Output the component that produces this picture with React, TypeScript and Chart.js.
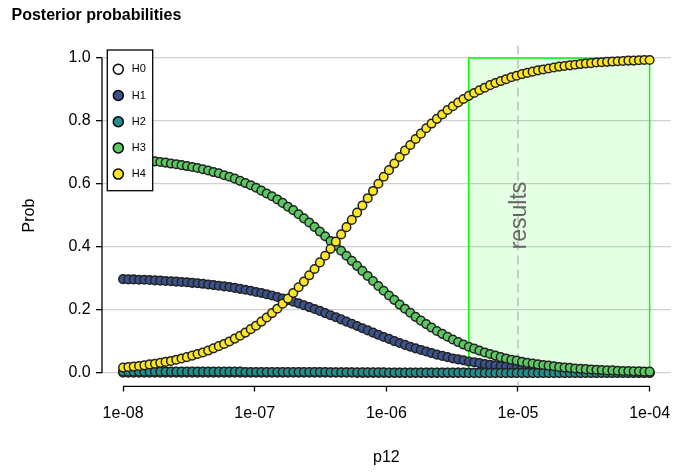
import React, { useEffect, useRef } from "react";
import { Chart, registerables } from "chart.js";

Chart.register(...registerables);

const FONT = '"Liberation Sans", Arial, Helvetica, sans-serif';

// p12 prior values (x)
const p12 = [
  1.0e-8, 1.0975e-8, 1.2045e-8, 1.3219e-8, 1.4508e-8, 1.5923e-8, 1.7475e-8, 1.9179e-8, 2.1049e-8, 2.3101e-8,
  2.5354e-8, 2.7826e-8, 3.0539e-8, 3.3517e-8, 3.6784e-8, 4.0371e-8, 4.4307e-8, 4.8627e-8, 5.3368e-8, 5.8571e-8,
  6.4282e-8, 7.055e-8, 7.7428e-8, 8.4978e-8, 9.3263e-8, 1.0236e-7, 1.1234e-7, 1.2329e-7, 1.3531e-7, 1.485e-7,
  1.6298e-7, 1.7887e-7, 1.9631e-7, 2.1544e-7, 2.3645e-7, 2.595e-7, 2.848e-7, 3.1257e-7, 3.4305e-7, 3.7649e-7,
  4.132e-7, 4.5349e-7, 4.9771e-7, 5.4623e-7, 5.9949e-7, 6.5794e-7, 7.2209e-7, 7.9249e-7, 8.6976e-7, 9.5456e-7,
  1.0476e-6, 1.1498e-6, 1.2619e-6, 1.3849e-6, 1.52e-6, 1.6681e-6, 1.8308e-6, 2.0093e-6, 2.2052e-6, 2.4202e-6,
  2.6562e-6, 2.9151e-6, 3.1993e-6, 3.5113e-6, 3.8537e-6, 4.2294e-6, 4.6416e-6, 5.0941e-6, 5.5908e-6, 6.1359e-6,
  6.7342e-6, 7.3908e-6, 8.1114e-6, 8.9022e-6, 9.7702e-6, 1.0723e-5, 1.1768e-5, 1.2916e-5, 1.4175e-5, 1.5557e-5,
  1.7074e-5, 1.8739e-5, 2.0566e-5, 2.2571e-5, 2.4771e-5, 2.7186e-5, 2.9837e-5, 3.2746e-5, 3.5939e-5, 3.9443e-5,
  4.3289e-5, 4.7509e-5, 5.2141e-5, 5.7225e-5, 6.2805e-5, 6.8928e-5, 7.5649e-5, 8.3024e-5, 9.112e-5, 1.0e-4,
];

const H0 = [
  0.001, 0.001, 0.001, 0.001, 0.001, 0.001, 0.001, 0.001, 0.001, 0.001,
  0.001, 0.001, 0.001, 0.001, 0.001, 0.001, 0.001, 0.001, 0.001, 0.001,
  0.001, 0.001, 0.001, 0.001, 0.001, 0.001, 0.001, 0.001, 0.001, 0.001,
  0.001, 0.001, 0.001, 0.001, 0.001, 0.001, 0.001, 0.001, 0.001, 0.001,
  0.001, 0.001, 0.001, 0.001, 0.0, 0.0, 0.0, 0.0, 0.0, 0.0,
  0.0, 0.0, 0.0, 0.0, 0.0, 0.0, 0.0, 0.0, 0.0, 0.0,
  0.0, 0.0, 0.0, 0.0, 0.0, 0.0, 0.0, 0.0, 0.0, 0.0,
  0.0, 0.0, 0.0, 0.0, 0.0, 0.0, 0.0, 0.0, 0.0, 0.0,
  0.0, 0.0, 0.0, 0.0, 0.0, 0.0, 0.0, 0.0, 0.0, 0.0,
  0.0, 0.0, 0.0, 0.0, 0.0, 0.0, 0.0, 0.0, 0.0, 0.0,
];

const H1 = [
  0.298, 0.297, 0.297, 0.296, 0.296, 0.295, 0.294, 0.293, 0.292, 0.291,
  0.29, 0.289, 0.288, 0.286, 0.285, 0.283, 0.281, 0.279, 0.277, 0.275,
  0.273, 0.27, 0.267, 0.264, 0.261, 0.257, 0.254, 0.25, 0.246, 0.241,
  0.236, 0.231, 0.226, 0.221, 0.215, 0.209, 0.203, 0.197, 0.19, 0.183,
  0.177, 0.17, 0.163, 0.156, 0.149, 0.142, 0.135, 0.128, 0.121, 0.114,
  0.108, 0.101, 0.095, 0.089, 0.083, 0.078, 0.073, 0.068, 0.063, 0.058,
  0.054, 0.05, 0.046, 0.043, 0.04, 0.036, 0.034, 0.031, 0.028, 0.026,
  0.024, 0.022, 0.02, 0.018, 0.017, 0.015, 0.014, 0.013, 0.012, 0.011,
  0.01, 0.009, 0.008, 0.008, 0.007, 0.006, 0.006, 0.005, 0.005, 0.004,
  0.004, 0.004, 0.003, 0.003, 0.003, 0.003, 0.002, 0.002, 0.002, 0.002,
];

const H2 = [
  0.004, 0.004, 0.004, 0.004, 0.004, 0.004, 0.004, 0.004, 0.004, 0.004,
  0.004, 0.004, 0.004, 0.004, 0.004, 0.004, 0.004, 0.004, 0.004, 0.004,
  0.004, 0.004, 0.004, 0.003, 0.003, 0.003, 0.003, 0.003, 0.003, 0.003,
  0.003, 0.003, 0.003, 0.003, 0.003, 0.003, 0.003, 0.003, 0.003, 0.002,
  0.002, 0.002, 0.002, 0.002, 0.002, 0.002, 0.002, 0.002, 0.002, 0.002,
  0.001, 0.001, 0.001, 0.001, 0.001, 0.001, 0.001, 0.001, 0.001, 0.001,
  0.001, 0.001, 0.001, 0.001, 0.001, 0.0, 0.0, 0.0, 0.0, 0.0,
  0.0, 0.0, 0.0, 0.0, 0.0, 0.0, 0.0, 0.0, 0.0, 0.0,
  0.0, 0.0, 0.0, 0.0, 0.0, 0.0, 0.0, 0.0, 0.0, 0.0,
  0.0, 0.0, 0.0, 0.0, 0.0, 0.0, 0.0, 0.0, 0.0, 0.0,
];

const H3 = [
  0.68, 0.679, 0.678, 0.677, 0.675, 0.673, 0.672, 0.67, 0.668, 0.665,
  0.663, 0.66, 0.657, 0.654, 0.651, 0.647, 0.643, 0.638, 0.634, 0.628,
  0.623, 0.617, 0.61, 0.603, 0.596, 0.588, 0.579, 0.57, 0.561, 0.551,
  0.54, 0.528, 0.517, 0.504, 0.491, 0.478, 0.464, 0.449, 0.434, 0.419,
  0.404, 0.388, 0.372, 0.356, 0.34, 0.324, 0.308, 0.292, 0.276, 0.261,
  0.246, 0.232, 0.217, 0.204, 0.191, 0.178, 0.166, 0.155, 0.144, 0.133,
  0.124, 0.115, 0.106, 0.098, 0.09, 0.083, 0.077, 0.071, 0.065, 0.06,
  0.055, 0.05, 0.046, 0.042, 0.039, 0.035, 0.032, 0.03, 0.027, 0.025,
  0.023, 0.021, 0.019, 0.017, 0.016, 0.014, 0.013, 0.012, 0.011, 0.01,
  0.009, 0.008, 0.008, 0.007, 0.006, 0.006, 0.005, 0.005, 0.004, 0.004,
];

const H4 = [
  0.017, 0.019, 0.02, 0.022, 0.024, 0.027, 0.029, 0.032, 0.035, 0.038,
  0.042, 0.046, 0.05, 0.055, 0.06, 0.065, 0.071, 0.078, 0.085, 0.092,
  0.1, 0.109, 0.118, 0.128, 0.139, 0.15, 0.163, 0.176, 0.19, 0.204,
  0.22, 0.236, 0.254, 0.272, 0.29, 0.31, 0.33, 0.351, 0.372, 0.394,
  0.417, 0.44, 0.463, 0.486, 0.509, 0.532, 0.555, 0.578, 0.601, 0.623,
  0.644, 0.665, 0.686, 0.706, 0.724, 0.743, 0.76, 0.777, 0.792, 0.807,
  0.821, 0.835, 0.847, 0.859, 0.87, 0.88, 0.889, 0.898, 0.906, 0.914,
  0.921, 0.927, 0.933, 0.939, 0.944, 0.949, 0.953, 0.957, 0.961, 0.964,
  0.967, 0.97, 0.973, 0.975, 0.977, 0.979, 0.981, 0.983, 0.984, 0.986,
  0.987, 0.988, 0.989, 0.99, 0.991, 0.992, 0.992, 0.993, 0.994, 0.994,
];

const seriesNames = ["H0", "H1", "H2", "H3", "H4"];
const seriesValues = [H0, H1, H2, H3, H4];
const seriesColors = ["#ffffff", "#3b528b", "#21908c", "#5dc863", "#fde725"];

const xTicks = [1e-8, 1e-7, 1e-6, 1e-5, 1e-4];
const xTickLabels = ["1e-08", "1e-07", "1e-06", "1e-05", "1e-04"];
const yTicks = [0, 0.2, 0.4, 0.6, 0.8, 1.0];
const yTickLabels = ["0.0", "0.2", "0.4", "0.6", "0.8", "1.0"];

const xMin = 6.918e-9;
const xMax = 1.4454e-4;
const yMin = -0.04;
const yMax = 1.04;

// region where the rule passes, and the p12 used for the results
const passStart = 4.2294e-6;
const passEnd = 1e-4;
const resultsP12 = 1e-5;

const overlayPlugin = {
  id: "overlay",
  beforeDatasetsDraw(chart: any) {
    const { ctx, chartArea, scales } = chart;
    const x = scales.x;
    const y = scales.y;
    ctx.save();
    const x0 = x.getPixelForValue(passStart);
    const x1 = x.getPixelForValue(passEnd);
    const yTop = y.getPixelForValue(1);
    const yBot = y.getPixelForValue(0);
    ctx.fillStyle = "rgba(0,255,0,0.1)";
    ctx.fillRect(x0, yTop, x1 - x0, yBot - yTop);
    ctx.strokeStyle = "#00ff00";
    ctx.lineWidth = 1.5;
    ctx.strokeRect(x0, yTop, x1 - x0, yBot - yTop);

    const xr = x.getPixelForValue(resultsP12);
    ctx.setLineDash([9, 5]);
    ctx.strokeStyle = "#b0b0b0";
    ctx.lineWidth = 1.2;
    ctx.beginPath();
    ctx.moveTo(xr, chartArea.top);
    ctx.lineTo(xr, chartArea.bottom);
    ctx.stroke();
    ctx.setLineDash([]);

    ctx.translate(xr + 8, y.getPixelForValue(0.5));
    ctx.rotate(-Math.PI / 2);
    ctx.font = `23px ${FONT}`;
    ctx.fillStyle = "#666666";
    ctx.textAlign = "center";
    ctx.textBaseline = "alphabetic";
    ctx.fillText("results", 0, 0);
    ctx.restore();
  },
  afterDraw(chart: any) {
    const { ctx, chartArea, scales } = chart;
    const x = scales.x;
    const y = scales.y;
    ctx.save();
    // R-style axis lines
    ctx.strokeStyle = "#000";
    ctx.lineWidth = 1.3;
    ctx.beginPath();
    ctx.moveTo(chartArea.left, y.getPixelForValue(yTicks[0]));
    ctx.lineTo(chartArea.left, y.getPixelForValue(yTicks[yTicks.length - 1]));
    ctx.stroke();
    const yb = chartArea.bottom + 0.8;
    ctx.beginPath();
    ctx.moveTo(x.getPixelForValue(xTicks[0]), yb);
    ctx.lineTo(x.getPixelForValue(xTicks[xTicks.length - 1]), yb);
    ctx.stroke();

    // legend
    const lx = chartArea.left + 5.3;
    const ly = chartArea.top + 4.5;
    const lw = 45.4;
    const lh = 140.7;
    ctx.fillStyle = "#fff";
    ctx.fillRect(lx, ly, lw, lh);
    ctx.strokeStyle = "#000";
    ctx.lineWidth = 1.3;
    ctx.strokeRect(lx, ly, lw, lh);
    ctx.font = `11px ${FONT}`;
    ctx.textAlign = "left";
    ctx.textBaseline = "middle";
    seriesNames.forEach((name, k) => {
      const cy = ly + 19.3 + k * 26.2;
      ctx.beginPath();
      ctx.arc(lx + 11, cy, 5, 0, Math.PI * 2);
      ctx.fillStyle = seriesColors[k];
      ctx.fill();
      ctx.lineWidth = 1.5;
      ctx.strokeStyle = "#000";
      ctx.stroke();
      ctx.fillStyle = "#000";
      ctx.fillText(name, lx + 24.4, cy);
    });
    ctx.restore();
  },
};

export default function App() {
  const ref = useRef<HTMLCanvasElement>(null);

  useEffect(() => {
    if (!ref.current) return;
    const datasets = seriesNames.map((name, k) => ({
      label: name,
      data: p12.map((xv, i) => ({ x: xv, y: seriesValues[k][i] })),
      showLine: false,
      pointRadius: 4.3,
      pointBorderWidth: 1.5,
      pointBorderColor: "#222222",
      pointBackgroundColor: seriesColors[k],
      order: seriesNames.length - 1 - k,
    }));

    const chart = new Chart(ref.current, {
      type: "scatter",
      data: { datasets },
      plugins: [overlayPlugin],
      options: {
        responsive: false,
        animation: false,
        devicePixelRatio: 1,
        events: [],
        layout: { padding: { left: 11.5, right: 16.3, top: 0, bottom: 0 } },
        plugins: {
          legend: { display: false },
          tooltip: { enabled: false },
          title: {
            display: true,
            text: "Posterior probabilities",
            align: "start",
            color: "#000",
            font: { family: FONT, size: 16, weight: "bold" },
            padding: { top: 5.6, bottom: 20.7 },
          },
        },
        scales: {
          x: {
            type: "logarithmic",
            position: "bottom",
            min: xMin,
            max: xMax,
            afterBuildTicks: (s: any) => {
              s.ticks = xTicks.map((v) => ({ value: v }));
            },
            afterFit: (s: any) => {
              s.height = 87.5;
            },
            ticks: {
              callback: (_v: any, i: number) => xTickLabels[i],
              color: "#000",
              font: { family: FONT, size: 16 },
              padding: 12.4,
              maxRotation: 0,
              autoSkip: false,
            },
            grid: {
              drawOnChartArea: false,
              drawTicks: true,
              tickLength: 6,
              tickColor: "#000",
              tickWidth: 1.3,
            },
            border: { display: false },
            title: {
              display: true,
              text: "p12",
              color: "#000",
              font: { family: FONT, size: 16 },
              padding: { top: 0, bottom: 5.9 },
            },
          },
          y: {
            type: "linear",
            min: yMin,
            max: yMax,
            afterBuildTicks: (s: any) => {
              s.ticks = yTicks.map((v) => ({ value: v }));
            },
            afterFit: (s: any) => {
              s.width = 90.5;
            },
            ticks: {
              callback: (_v: any, i: number) => yTickLabels[i],
              color: "#000",
              font: { family: FONT, size: 16 },
              padding: 5.3,
            },
            grid: {
              color: "#d0d0d0",
              lineWidth: 1.3,
              drawTicks: true,
              tickLength: 6,
              tickColor: "#000",
              tickWidth: 1.3,
            },
            border: { display: false },
            title: {
              display: true,
              text: "Prob",
              color: "#000",
              font: { family: FONT, size: 16 },
              padding: { top: 8.4, bottom: 0 },
            },
          },
        },
      },
    } as any);

    return () => chart.destroy();
  }, []);

  return (
    <div style={{ position: "absolute", left: 0, top: 0, width: 687, height: 473, background: "#fff" }}>
      <canvas ref={ref} width={687} height={473} style={{ display: "block", width: 687, height: 473 }} />
    </div>
  );
}
